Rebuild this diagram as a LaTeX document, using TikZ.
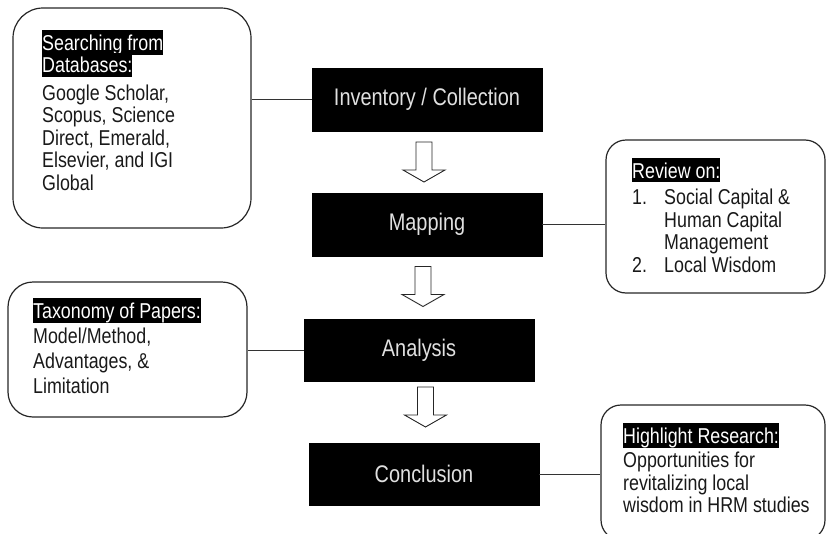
\documentclass[tikz,border=0pt]{standalone}
\usepackage{fontspec}
\setmainfont{Liberation Sans}[FakeStretch=0.83]
\usetikzlibrary{calc}
\newcommand\hlbar[1]{{\setlength\fboxsep{0pt}\colorbox{black}{\rule[-4pt]{0pt}{24pt}\textcolor{white}{#1}}}}
\newcommand\notefont{\fontsize{21.5}{22.5}\selectfont}
\newcommand\taxfont{\fontsize{21.5}{25}\selectfont}
\begin{document}
\setlength{\lineskiplimit}{-100pt}
\begin{tikzpicture}[x=1pt,y=-1pt,
  stepbox/.style={draw=black, fill=black, minimum width=230pt, minimum height=63pt, inner sep=0pt, text=white!88!black, font=\fontsize{24}{26}\selectfont},
  rbox/.style={draw=black!85, line width=1.2pt, inner sep=0pt},
  notetxt/.style={anchor=north west, inner sep=0pt, align=left, text=black!90, font=\notefont},
  link/.style={draw=black!80, line width=0.9pt},
  barrow/.style={draw=black!85, line width=0.9pt, fill=white},
  pics/blockarrow/.style={code={\draw[barrow] (-8,-20) -- (8,-20) -- (8,8) -- (21,8) -- (0,20) -- (-21,8) -- (-8,8) -- cycle;}}]
\useasboundingbox (0,0) rectangle (827,533);
\clip (0,0) rectangle (827,533);
% main steps
\node[stepbox] (inv) at (427,99.5) {Inventory / Collection};
\node[stepbox] (map) at (427,224.5) {Mapping};
\node[stepbox, minimum height=62pt] (ana) at (419,350) {Analysis};
\node[stepbox, minimum height=62pt] (con) at (424,474) {Conclusion};
% block arrows
\pic at ($(inv.south)!0.5!(map.north)+(-3,0)$) {blockarrow};
\pic at ($(map.south)!0.5!(ana.north)+(0,-1)$) {blockarrow};
\pic at ($(ana.south)!0.5!(con.north)+(4,-5)$) {blockarrow};
% side boxes
\node[rbox, rounded corners=30pt, minimum width=238pt, minimum height=220pt] (db) at (132,118) {};
\node[notetxt] (dbt) at (42,30) {\hlbar{Searching from}\\\hlbar{Databases:}\\[5pt]Google Scholar,\\Scopus, Science\\Direct, Emerald,\\Elsevier, and IGI\\Global};
\node[rbox, rounded corners=20pt, minimum width=219pt, minimum height=153pt] (rev) at (715.5,216.5) {};
\node[notetxt] (revt) at (632,158) {\hlbar{Review on:}\\[4pt]\makebox[32pt][l]{1.}Social Capital \&\\\hspace*{32pt}Human Capital\\\hspace*{32pt}Management\\\makebox[32pt][l]{2.}Local Wisdom};
\node[rbox, rounded corners=25pt, minimum width=239pt, minimum height=135pt] (tax) at (127.5,349.5) {};
\node[notetxt, font=\taxfont] (taxt) at (33,298) {\hlbar{Taxonomy of Papers:}\\Model/Method,\\Advantages, \&\\Limitation};
\node[rbox, rounded corners=20pt, minimum width=224pt, minimum height=135pt] (hig) at (713,472.5) {};
\node[notetxt] (higt) at (623,423) {\hlbar{Highlight Research:}\\[2pt]Opportunities for\\revitalizing local\\wisdom in HRM studies};
% connectors
\draw[link] (inv.west) -- (inv.west -| db.east);
\draw[link] (map.east) -- (map.east -| rev.west);
\draw[link] (ana.west) -- (ana.west -| tax.east);
\draw[link] (con.east) -- (con.east -| hig.west);
\end{tikzpicture}
\end{document}
